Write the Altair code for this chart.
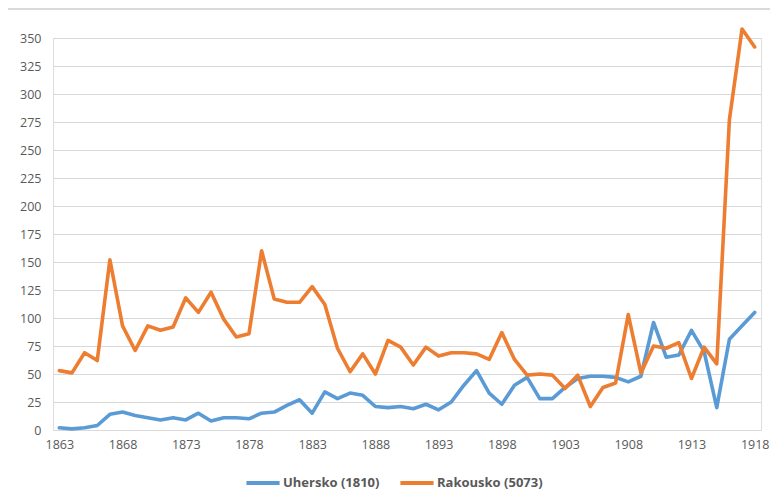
import altair as alt
import pandas as pd

years = list(range(1863, 1919))

uhersko = [2, 1, 2, 4, 14, 16, 13, 11, 9, 11, 9, 15, 8, 11, 11, 10, 15, 16, 22, 27,
           15, 34, 28, 33, 31, 21, 20, 21, 19, 23, 18, 25, 40, 53, 33, 23, 40, 47, 28, 28,
           38, 46, 48, 48, 47, 43, 48, 96, 65, 67, 89, 70, 20, 81, 93, 105]

rakousko = [53, 51, 69, 62, 152, 93, 71, 93, 89, 92, 118, 105, 123, 99, 83, 86, 160, 117, 114, 114,
            128, 112, 73, 52, 68, 50, 80, 74, 58, 74, 66, 69, 69, 68, 63, 87, 63, 49, 50, 49,
            37, 49, 21, 38, 42, 103, 51, 75, 73, 78, 46, 74, 59, 277, 358, 342]

series_names = ["Uhersko (1810)", "Rakousko (5073)"]
series_colors = ["#5B9BD5", "#ED7D31"]
x_ticks = list(range(1863, 1919, 5))
y_ticks = list(range(0, 351, 25))

df = pd.concat([
    pd.DataFrame({"rok": years, "hodnota": uhersko, "serie": series_names[0]}),
    pd.DataFrame({"rok": years, "hodnota": rakousko, "serie": series_names[1]}),
])

FONT = "Open Sans"
GRAY = "#595959"
GRID = "#D9D9D9"

lines = alt.Chart(df).mark_line(strokeWidth=3.6, strokeCap="round", strokeJoin="round").encode(
    x=alt.X("rok:Q",
            scale=alt.Scale(domain=[1862.5, 1918.5], nice=False, zero=False),
            axis=alt.Axis(values=x_ticks, format="d", title=None, grid=False, ticks=False,
                          domain=True, domainColor=GRID, domainWidth=1,
                          labelPadding=8, labelFontSize=12.5, labelColor=GRAY, labelFont=FONT)),
    y=alt.Y("hodnota:Q",
            scale=alt.Scale(domain=[0, 350], nice=False),
            axis=alt.Axis(values=y_ticks, title=None, grid=True, gridColor=GRID, gridWidth=1,
                          ticks=False, domain=False, labelPadding=12,
                          labelFontSize=12.5, labelColor=GRAY, labelFont=FONT)),
    color=alt.Color("serie:N",
                    scale=alt.Scale(domain=series_names, range=series_colors),
                    sort=series_names,
                    legend=alt.Legend(title=None, orient="none", direction="horizontal",
                                      legendX=191, legendY=426,
                                      symbolType="stroke", symbolSize=1100, symbolStrokeWidth=4,
                                      labelFont=FONT, labelFontSize=13, labelColor=GRAY,
                                      labelFontWeight="bold", columnPadding=12, labelOffset=1)),
    order=alt.Order("rok:Q"),
)

frame_top = alt.Chart(df).mark_rule(color=GRID, strokeWidth=1).encode(
    x=alt.value(-46), x2=alt.value(760), y=alt.value(-29)
)
frame_left = alt.Chart(df).mark_rule(color=GRID, strokeWidth=1).encode(
    x=alt.value(-46), y=alt.value(-29), y2=alt.value(500)
)

chart = alt.layer(frame_top, frame_left, lines).properties(
    width=708, height=392,
    autosize=alt.AutoSizeParams(type="none"),
    padding={"left": 45, "top": 30, "right": 9, "bottom": 64},
).configure_view(stroke=None).configure(background="white")

chart.save("out.html", embed_options={"renderer": "svg", "actions": False})
